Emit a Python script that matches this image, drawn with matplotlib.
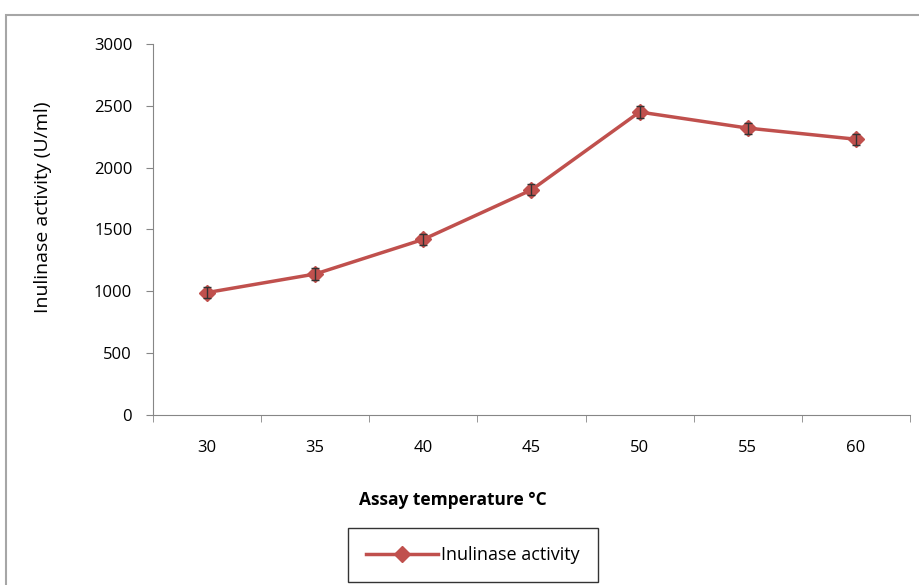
import matplotlib
matplotlib.use('Agg')
import matplotlib.pyplot as plt
from matplotlib.patches import Rectangle
import numpy as np

# data
temperatures = [30, 35, 40, 45, 50, 55, 60]
activity = [990, 1140, 1420, 1820, 2450, 2320, 2230]
errors = [45, 45, 45, 45, 45, 45, 45]

line_color = '#C0504D'
axis_color = '#868686'

plt.rcParams['font.family'] = ['Open Sans', 'DejaVu Sans']

fig = plt.figure(figsize=(9.2, 5.85), dpi=100)
ax = fig.add_axes([0.1663, 0.2906, 0.8227, 0.6342])

ax.errorbar(temperatures, activity, yerr=errors, fmt='none', ecolor='#333333', elinewidth=1, capsize=3, zorder=3)
line, = ax.plot(temperatures, activity, color=line_color, lw=2.5, marker='D', markersize=8, zorder=2)

ax.set_xlim(27.5, 62.5)
ax.set_ylim(0, 3000)
ax.set_xticks(temperatures)
ax.set_xticks(np.arange(27.5, 63, 5), minor=True)
ax.set_yticks(range(0, 3001, 500))
ax.tick_params(axis='x', which='major', length=0, pad=18, labelsize=12)
ax.tick_params(axis='x', which='minor', length=5, color=axis_color, direction='out')
ax.tick_params(axis='y', length=5, color=axis_color, labelsize=12, pad=10)

for side in ['top', 'right']:
    ax.spines[side].set_visible(False)
for side in ['left', 'bottom']:
    ax.spines[side].set_color(axis_color)

ax.set_ylabel('Inulinase activity (U/ml)', fontsize=14)
ax.yaxis.set_label_coords(-0.133, 0.56)
ax.set_xlabel('Assay temperature °C', fontsize=12.5, fontweight='bold')
ax.xaxis.set_label_coords(0.396, -0.205)

# legend box below the plot
leg = fig.legend(handles=[line], labels=['Inulinase activity'], loc='center',
                 bbox_to_anchor=(0.514, 0.051), frameon=True, fancybox=False,
                 fontsize=13, handlelength=4.0, handletextpad=0.2, borderpad=1.0)
leg.get_frame().set_edgecolor('black')
leg.get_frame().set_linewidth(1)

# chart area border
fig.patches.append(Rectangle((0.006, -0.1), 1.1, 1.074, transform=fig.transFigure,
                             fill=False, edgecolor='#A6A6A6', lw=1.5))

fig.savefig('out.png', dpi=100)
